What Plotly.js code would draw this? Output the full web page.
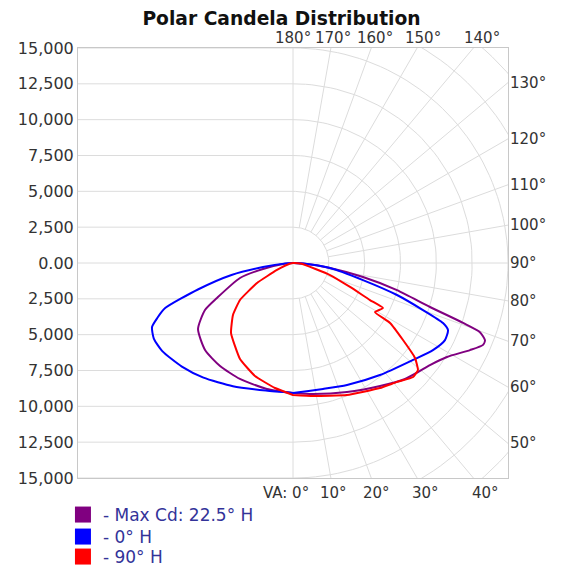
<!DOCTYPE html>
<html>
<head>
<meta charset="utf-8">
<script src="https://cdn.plot.ly/plotly-3.0.1.min.js"></script>
<style>html,body{margin:0;padding:0;background:#fff;}#chart{width:563px;height:569px;}</style>
</head>
<body>
<div id="chart"></div>
<script>
// ---- Data (vertical angle in degrees, candela) ----
const seriesNames = ['- Max Cd: 22.5° H', '- 0° H', '- 90° H'];
const seriesColors = ['#800080', '#0000ff', '#ff0000'];

// Max Cd 22.5° H
const maxLeftAngle = [0, 11.7, 24.6, 35.3, 45.3, 55.2, 61.9, 65.3, 74.2, 78.7, 85, 90];
const maxLeftCd    = [9070, 8978, 8898, 8807, 8632, 8071, 6960, 5838, 3843, 2134, 600, 0];
const maxRightAngle = [0, 8.7, 22.7, 35.3, 44, 48.9, 53.3, 58.6, 63.8, 66.7, 68.1, 69.7, 70.6, 72.2, 75.4, 78.7, 82.3, 87, 90];
const maxRightCd    = [9070, 9245, 9755, 10512, 11250, 11570, 11917, 12588, 13760, 14437, 14435, 13906, 12578, 10040, 7497, 4980, 2604, 700, 0];

// 0° H
const h0LeftAngle = [0, 12, 26, 38, 47, 56, 61.5, 65.6, 68, 70.5, 74.5, 79, 82.4, 87, 90];
const h0LeftCd    = [9070, 9100, 9560, 10150, 10600, 11000, 11050, 10800, 10200, 9480, 6850, 4370, 2111, 500, 0];
const h0RightAngle = [0, 13.4, 23.9, 37.8, 51.1, 58.1, 63.1, 66.6, 68.2, 70.1, 72.9, 76.3, 82.3, 87, 90];
const h0RightCd    = [9070, 9036, 9309, 9894, 10766, 11500, 11888, 11783, 11272, 9645, 7591, 5025, 2604, 700, 0];

// 90° H
const h90LeftAngle = [0, 8.2, 18.6, 28.9, 41.5, 49.1, 55.1, 60.9, 66.4, 80, 90];
const h90LeftCd    = [9210, 8811, 8318, 7650, 6524, 5540, 4510, 2873, 1218, 200, 0];
const h90RightAngle = [0, 8.6, 22.2, 34.8, 41.2, 46.5, 49.4, 52.1, 55, 58.3, 59.1, 63.4, 64.3, 67.2, 72, 85, 90];
const h90RightCd    = [9210, 9384, 9950, 10625, 11026, 11550, 11480, 10788, 9370, 7957, 6665, 7020, 5960, 4315, 2715, 600, 0];

// Axis tick labels
const yTickVals = [-15000, -12500, -10000, -7500, -5000, -2500, 0, 2500, 5000, 7500, 10000, 12500, 15000];
const yTickText = ['15,000', '12,500', '10,000', '7,500', '5,000', '2,500', '0.00', '2,500', '5,000', '7,500', '10,000', '12,500', '15,000'];
const topAngleLabels = [180, 170, 160, 150, 140];
const rightAngleLabels = [130, 120, 110, 100, 90, 80, 70, 60, 50];
const bottomAngleLabels = [0, 10, 20, 30, 40];

// ---- Helpers ----
const RANGE = 15000;
const rad = d => d * Math.PI / 180;
const FONT = 'DejaVu Sans, Verdana, sans-serif';

function loop(lA, lC, rA, rC) {
  const x = [], y = [];
  for (let i = lA.length - 1; i >= 0; i--) {
    x.push(-lC[i] * Math.sin(rad(lA[i])));
    y.push(-lC[i] * Math.cos(rad(lA[i])));
  }
  for (let i = 0; i < rA.length; i++) {
    x.push(rC[i] * Math.sin(rad(rA[i])));
    y.push(-rC[i] * Math.cos(rad(rA[i])));
  }
  return {x, y};
}

// Grid
const gx = [], gy = [];
const step = yTickVals[1] - yTickVals[0];
for (let r = step; r <= 20000; r += step) {
  for (let a = 0; a <= 180; a += 2) {
    gx.push(r * Math.sin(rad(a)));
    gy.push(-r * Math.cos(rad(a)));
  }
  gx.push(null); gy.push(null);
}
for (let a = 10; a <= 170; a += 10) {
  if (a === 90) continue;
  gx.push(step * Math.sin(rad(a)), 30000 * Math.sin(rad(a)), null);
  gy.push(-step * Math.cos(rad(a)), -30000 * Math.cos(rad(a)), null);
}
yTickVals.forEach(v => {
  if (v === 0) { gx.push(-RANGE, RANGE, null); }
  else { gx.push(-RANGE, 0, null); }
  gy.push(v, v, null);
});
gx.push(0, 0, null); gy.push(-RANGE, RANGE, null);

const traces = [{
  type: 'scatter', mode: 'lines', x: gx, y: gy,
  line: {color: '#dcdcdc', width: 1}, hoverinfo: 'skip', showlegend: false
}];

const loops = [
  loop(maxLeftAngle, maxLeftCd, maxRightAngle, maxRightCd),
  loop(h0LeftAngle, h0LeftCd, h0RightAngle, h0RightCd),
  loop(h90LeftAngle, h90LeftCd, h90RightAngle, h90RightCd)
];
loops.forEach((l, i) => {
  traces.push({
    type: 'scatter', mode: 'lines', x: l.x, y: l.y,
    line: {color: seriesColors[i], width: 2, shape: 'spline', smoothing: i === 2 ? 0.4 : 0.6},
    showlegend: false, hoverinfo: 'skip'
  });
});
const legendIds = ['legend', 'legend2', 'legend3'];
seriesNames.forEach((n, i) => {
  traces.push({
    type: 'scatter', mode: 'markers', x: [null], y: [null], name: n, legend: legendIds[i],
    marker: {symbol: 'square', size: 16, color: seriesColors[i]}, showlegend: true
  });
});

// Angle label annotations (paper coordinates computed from data units)
const px = v => (v + RANGE) / (2 * RANGE);
const lblFont = {family: FONT, size: 15, color: '#333333'};
const annotations = [];
const topRow = RANGE * (1 + 20 / 430);
topAngleLabels.forEach(a => {
  annotations.push({xref: 'paper', yref: 'paper', x: px(topRow * Math.tan(rad(180 - a))), y: px(topRow),
    text: a + '°', showarrow: false, xanchor: 'center', yanchor: 'middle', font: lblFont});
});
rightAngleLabels.forEach(a => {
  annotations.push({xref: 'paper', yref: 'paper', x: px(RANGE), y: px(-RANGE / Math.tan(rad(a))),
    text: a + '°', showarrow: false, xanchor: 'left', yanchor: 'middle', xshift: 0, font: lblFont});
});
const botRow = RANGE * (1 + 30 / 430);
bottomAngleLabels.forEach(a => {
  const first = a === 0;
  annotations.push({xref: 'paper', yref: 'paper', x: px(botRow * Math.tan(rad(a))), y: px(-botRow),
    text: (first ? 'VA: ' : '') + a + '°', showarrow: false, xanchor: first ? 'right' : 'center',
    xshift: first ? 18 : 0, yanchor: 'middle', font: lblFont});
});

const legendBase = {x: -0.035, xanchor: 'left', yanchor: 'middle', orientation: 'v',
  bgcolor: 'rgba(0,0,0,0)', font: {family: FONT, size: 17, color: '#333399'},
  itemclick: false, itemdoubleclick: false};
const rowY = [515, 537, 557];
const toPaperY = p => (478 - p) / 430;

const layout = {
  width: 563, height: 569,
  margin: {l: 78, r: 55, t: 48, b: 91, autoexpand: false},
  paper_bgcolor: '#ffffff', plot_bgcolor: '#ffffff',
  title: {text: 'Polar Candela Distribution', x: 0.5, xref: 'container', xanchor: 'center',
    y: 1 - 18 / 569, yref: 'container', yanchor: 'middle',
    font: {family: FONT, size: 18.7, color: '#111111', weight: 'bold'}},
  xaxis: {range: [-RANGE, RANGE], showticklabels: false, showgrid: false, zeroline: false,
    showline: true, mirror: true, linecolor: '#c8c8c8', linewidth: 1, ticks: '', fixedrange: true},
  yaxis: {range: [-RANGE, RANGE], tickvals: yTickVals, ticktext: yTickText, showgrid: false, zeroline: false,
    showline: true, mirror: true, linecolor: '#c8c8c8', linewidth: 1, ticks: '',
    tickfont: {family: FONT, size: 16, color: '#333333'}, fixedrange: true},
  showlegend: true,
  legend: Object.assign({}, legendBase, {y: toPaperY(rowY[0])}),
  legend2: Object.assign({}, legendBase, {y: toPaperY(rowY[1])}),
  legend3: Object.assign({}, legendBase, {y: toPaperY(rowY[2])}),
  annotations: annotations
};

Plotly.newPlot('chart', traces, layout, {displayModeBar: false, staticPlot: true});
</script>
</body>
</html>
